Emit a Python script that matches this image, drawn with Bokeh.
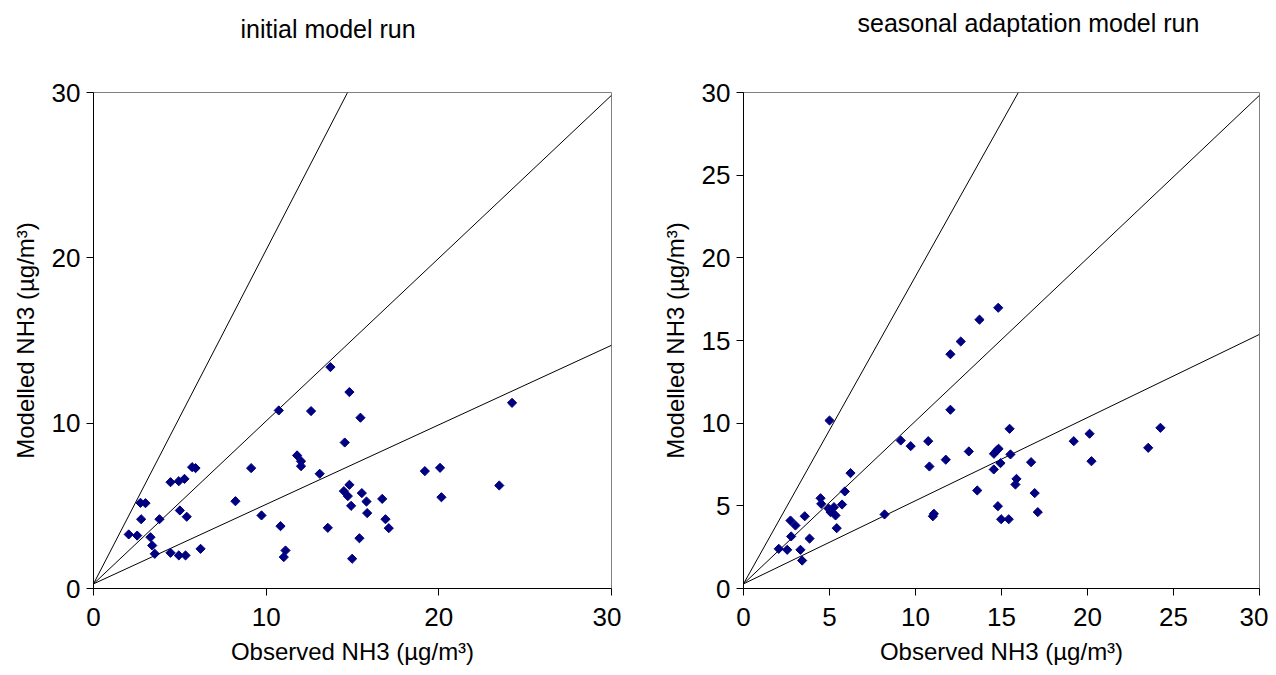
import numpy as np
from bokeh.plotting import figure
from bokeh.models import ColumnDataSource, Range1d, FixedTicker
from bokeh.core.properties import value
from bokeh.layouts import row, column
from bokeh.embed import file_html
from bokeh.resources import INLINE

# Observed vs modelled NH3 concentrations (µg/m³), one point per site
obs_initial = [2.04, 2.53, 2.72, 3.01, 2.76, 3.30, 3.40, 3.55, 3.82, 4.46, 4.46, 4.94,
               5.27, 5.00, 4.94, 5.33, 5.40, 5.71, 5.91, 6.20, 8.22, 9.13, 9.73,
               13.72, 10.73, 12.60, 14.82, 15.46, 14.55, 11.79, 12.02, 12.02, 13.10,
               19.19, 20.07, 10.83, 13.57, 11.12, 11.02, 14.82, 14.50, 14.73, 14.92,
               15.54, 15.81, 16.72, 15.85, 16.91, 17.10, 15.40, 14.98, 20.15, 24.24, 23.50]
mod_initial = [3.27, 3.20, 5.18, 5.16, 4.19, 3.10, 2.60, 2.10, 4.19, 6.43, 2.16, 6.49,
               6.63, 4.72, 2.00, 2.00, 4.34, 7.34, 7.28, 2.40, 5.28, 7.28, 4.42,
               13.39, 10.77, 10.73, 11.88, 10.33, 8.83, 8.05, 7.70, 7.40, 6.94,
               7.10, 7.30, 3.77, 3.67, 2.30, 1.90, 6.27, 5.89, 5.59, 5.00,
               5.77, 5.26, 5.42, 4.56, 4.19, 3.65, 3.04, 1.80, 5.52, 11.23, 6.23]

obs_seasonal = [2.05, 2.54, 2.73, 3.02, 2.77, 3.31, 3.41, 3.56, 3.84, 4.48, 4.52, 4.96,
                5.26, 5.06, 5.35, 5.42, 5.73, 5.89, 6.22, 8.20, 9.14, 9.72, 5.00,
                14.81, 13.72, 12.63, 12.03, 12.03, 15.47, 10.74, 10.81, 11.76, 13.10,
                14.56, 14.73, 14.83, 15.52, 14.94, 14.55, 16.72, 15.87, 15.81, 13.59,
                16.93, 14.79, 11.07, 11.01, 17.11, 14.98, 15.42, 19.20, 20.12, 20.23,
                23.53, 24.24]
mod_seasonal = [2.40, 2.34, 4.11, 3.81, 3.15, 2.34, 1.69, 4.37, 3.02, 5.46, 5.12, 4.82,
                4.92, 4.62, 4.42, 3.65, 5.08, 5.87, 6.98, 4.48, 8.95, 8.61, 10.16,
                16.98, 16.26, 14.94, 14.17, 10.81, 9.66, 8.91, 7.38, 7.79, 8.29,
                8.15, 8.35, 8.45, 8.11, 7.58, 7.20, 7.64, 6.63, 6.29, 5.93,
                5.77, 4.98, 4.52, 4.37, 4.62, 4.19, 4.19, 8.91, 9.36, 7.70,
                8.51, 9.72]

# Reference lines (slopes of the factor-of-two band and the 1:1 line)
ref_slopes_initial = [2.02, 0.985, 0.481]
ref_slopes_seasonal = [1.86, 0.985, 0.503]
ref_intercept = 0.28

ticks_initial = [0, 10, 20, 30]
ticks_seasonal = [0, 5, 10, 15, 20, 25, 30]

title_initial = "initial model run"
title_seasonal = "seasonal adaptation model run"
x_label = "Observed NH3 (µg/m³)"
y_label = "Modelled NH3 (µg/m³)"

AXMAX = 30
FONT = "Liberation Sans"
HEADER_H = 60


def header(width, border_left, border_right, title, tx, ty):
    """Thin strip above a chart holding its heading; its frame lines up with the chart's."""
    h = figure(width=width, height=HEADER_H, output_backend="svg", toolbar_location=None,
               x_range=Range1d(border_left, width - border_right),
               y_range=Range1d(0, HEADER_H),
               min_border_left=border_left, min_border_right=border_right,
               min_border_top=0, min_border_bottom=0)
    h.axis.visible = False
    h.grid.visible = False
    h.outline_line_color = None
    h.text(x=[tx], y=[HEADER_H - ty], text=[title], text_font=value(FONT),
           text_font_size="25px", text_align="left", text_baseline="middle",
           text_color="black")
    return h


def panel(obs, mod, slopes, ticks, width, border_left, border_right):
    p = figure(width=width, height=675 - HEADER_H, output_backend="svg", toolbar_location=None,
               x_range=Range1d(0, AXMAX), y_range=Range1d(0, AXMAX),
               min_border_left=border_left, min_border_right=border_right,
               min_border_top=92 - HEADER_H, min_border_bottom=87)
    p.grid.visible = False
    p.outline_line_color = "#808080"
    p.outline_line_width = 1
    p.background_fill_color = "white"
    p.border_fill_color = "white"

    for s in slopes:
        x_end = min(AXMAX, (AXMAX - ref_intercept) / s)
        xs = [0, x_end]
        ys = [ref_intercept + s * x for x in xs]
        p.line(xs, ys, line_color="black", line_width=1)

    src = ColumnDataSource(dict(x=obs, y=mod))
    p.scatter("x", "y", source=src, marker="square", angle=np.pi / 4, size=6.5,
              fill_color="#000080", line_color="#000080")

    for ax in (p.xaxis[0], p.yaxis[0]):
        ax.ticker = FixedTicker(ticks=ticks)
        ax.minor_tick_line_color = None
        ax.major_tick_in = 0
        ax.major_tick_out = 7
        ax.axis_line_color = "black"
        ax.major_tick_line_color = "black"
        ax.major_label_text_font = FONT
        ax.major_label_text_font_size = "26px"
        ax.major_label_text_color = "black"
        ax.axis_label_text_font = FONT
        ax.axis_label_text_font_size = "24px"
        ax.axis_label_text_font_style = "normal"
        ax.axis_label_text_color = "black"
    p.xaxis.axis_label = x_label
    p.yaxis.axis_label = y_label
    p.xaxis.major_label_standoff = 12
    p.xaxis.axis_label_standoff = 9
    p.yaxis.major_label_standoff = 6
    p.yaxis.axis_label_standoff = 10
    return p


h1 = header(621, 93, 10, title_initial, 240, 28)
p1 = panel(obs_initial, mod_initial, ref_slopes_initial, ticks_initial, 621, 93, 10)
h2 = header(647, 122, 9, title_seasonal, 236, 22)
p2 = panel(obs_seasonal, mod_seasonal, ref_slopes_seasonal, ticks_seasonal, 647, 122, 9)

layout = row(column(h1, p1), column(h2, p2))
open("out.html", "w").write(file_html(layout, INLINE))
